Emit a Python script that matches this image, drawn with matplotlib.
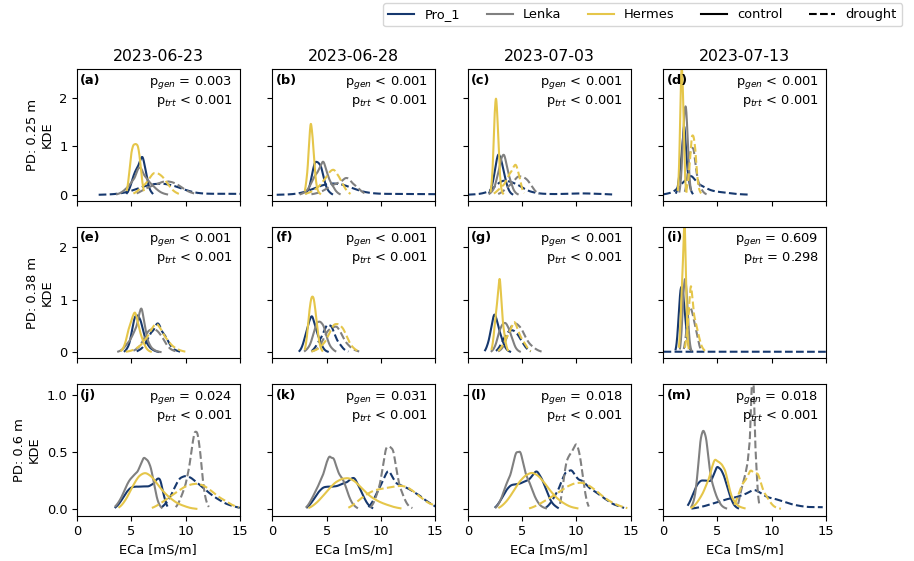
import numpy as np
import matplotlib
matplotlib.use("Agg")
import matplotlib.pyplot as plt
from matplotlib.lines import Line2D


dates = ["2023-06-23", "2023-06-28", "2023-07-03", "2023-07-13"]
depths = ["0.25", "0.38", "0.6"]
letters = [["a", "b", "c", "d"], ["e", "f", "g", "i"], ["j", "k", "l", "m"]]
genotypes = ["Pro_1", "Lenka", "Hermes"]
colors = {"Pro_1": "#16386e", "Lenka": "#808080", "Hermes": "#e5c64a"}

p_gen = [["= 0.003", "< 0.001", "< 0.001", "< 0.001"],
         ["< 0.001", "< 0.001", "< 0.001", "= 0.609"],
         ["= 0.024", "= 0.031", "= 0.018", "= 0.018"]]
p_trt = [["< 0.001", "< 0.001", "< 0.001", "< 0.001"],
         ["< 0.001", "< 0.001", "< 0.001", "= 0.298"],
         ["< 0.001", "< 0.001", "< 0.001", "< 0.001"]]

# density curves: (ECa [mS/m], KDE)
# PD 0.25 m
pa = {
    ("Pro_1", "control"): ([4.6, 4.9, 5.2, 5.5, 5.8, 6.05, 6.3, 6.55, 6.8, 6.95],
                           [0.02, 0.15, 0.4, 0.58, 0.7, 0.8, 0.55, 0.22, 0.06, 0.02]),
    ("Pro_1", "drought"): ([2, 3, 4, 5, 6, 7, 8, 9, 10, 11, 12, 13, 14, 15, 16],
                           [0.005, 0.01, 0.03, 0.08, 0.17, 0.23, 0.24, 0.19, 0.1, 0.04, 0.025, 0.025, 0.025, 0.025, 0.02]),
    ("Lenka", "control"): ([3.7, 4.2, 4.7, 5.2, 5.6, 5.9, 6.3, 6.8, 7.3, 7.8, 8.3],
                           [0.01, 0.06, 0.18, 0.35, 0.47, 0.5, 0.42, 0.25, 0.12, 0.04, 0.01]),
    ("Lenka", "drought"): ([5.5, 6.2, 6.9, 7.6, 8.2, 8.8, 9.4, 10, 10.6, 11.1],
                           [0.02, 0.12, 0.2, 0.25, 0.28, 0.27, 0.2, 0.1, 0.04, 0.01]),
    ("Hermes", "control"): ([4.6, 4.8, 5.0, 5.2, 5.4, 5.6, 5.8, 6.0, 6.15],
                            [0.05, 0.4, 0.9, 1.05, 1.05, 1.05, 0.8, 0.25, 0.05]),
    ("Hermes", "drought"): ([5.2, 5.7, 6.2, 6.7, 7.1, 7.5, 7.9, 8.3, 8.7, 9.1, 9.5],
                            [0.02, 0.1, 0.22, 0.36, 0.44, 0.45, 0.38, 0.25, 0.12, 0.05, 0.01]),
}
pb = {
    ("Pro_1", "control"): ([3.1, 3.4, 3.7, 3.95, 4.2, 4.45, 4.7, 5.0, 5.3, 5.5],
                           [0.02, 0.15, 0.5, 0.68, 0.68, 0.6, 0.4, 0.15, 0.04, 0.01]),
    ("Pro_1", "drought"): ([0.4, 1.5, 2.5, 3.5, 4.5, 5.5, 6.5, 7.5, 8.5, 9.5, 11, 12.5, 14, 15.5],
                           [0.005, 0.01, 0.03, 0.1, 0.2, 0.25, 0.22, 0.13, 0.05, 0.03, 0.025, 0.02, 0.02, 0.02]),
    ("Lenka", "control"): ([2.6, 3.1, 3.6, 4.0, 4.4, 4.7, 5.0, 5.4, 5.8, 6.2],
                           [0.01, 0.07, 0.25, 0.45, 0.6, 0.62, 0.5, 0.28, 0.08, 0.01]),
    ("Lenka", "drought"): ([3.6, 4.3, 5.0, 5.6, 6.2, 6.7, 7.1, 7.6, 8.1, 8.7],
                           [0.01, 0.05, 0.13, 0.22, 0.28, 0.32, 0.31, 0.22, 0.09, 0.01]),
    ("Hermes", "control"): ([3.0, 3.2, 3.4, 3.55, 3.7, 3.85, 4.0, 4.2, 4.4],
                            [0.03, 0.45, 1.2, 1.45, 1.25, 0.7, 0.3, 0.08, 0.02]),
    ("Hermes", "drought"): ([3.0, 3.6, 4.2, 4.8, 5.3, 5.7, 6.1, 6.5, 6.9, 7.2],
                            [0.02, 0.06, 0.16, 0.35, 0.48, 0.5, 0.4, 0.22, 0.06, 0.01]),
}
pc = {
    ("Pro_1", "control"): ([2.0, 2.3, 2.6, 2.85, 3.1, 3.35, 3.6, 3.85, 4.1],
                           [0.02, 0.25, 0.7, 0.85, 0.72, 0.45, 0.2, 0.06, 0.01]),
    ("Pro_1", "drought"): ([0, 1, 2, 2.7, 3.3, 3.9, 4.5, 5.1, 5.8, 6.6, 7.5, 8.5, 9.5, 10.5, 11.5, 12.5, 13.3],
                           [0.005, 0.02, 0.08, 0.22, 0.3, 0.28, 0.22, 0.14, 0.07, 0.03, 0.02, 0.02, 0.03, 0.035, 0.03, 0.02, 0.01]),
    ("Lenka", "control"): ([2.0, 2.4, 2.8, 3.1, 3.35, 3.6, 3.9, 4.2, 4.6],
                           [0.01, 0.12, 0.5, 0.75, 0.78, 0.62, 0.33, 0.1, 0.01]),
    ("Lenka", "drought"): ([2.8, 3.3, 3.8, 4.3, 4.7, 5.1, 5.5, 5.9, 6.3, 6.6],
                           [0.01, 0.08, 0.2, 0.32, 0.37, 0.38, 0.32, 0.18, 0.05, 0.01]),
    ("Hermes", "control"): ([2.1, 2.3, 2.45, 2.6, 2.75, 2.9, 3.05, 3.25],
                            [0.03, 0.5, 1.55, 2.2, 1.55, 0.6, 0.15, 0.02]),
    ("Hermes", "drought"): ([2.4, 2.8, 3.2, 3.6, 3.9, 4.2, 4.45, 4.7, 4.95, 5.2],
                            [0.02, 0.1, 0.2, 0.32, 0.45, 0.58, 0.62, 0.45, 0.15, 0.02]),
}
pd_ = {
    ("Pro_1", "control"): ([1.2, 1.4, 1.6, 1.8, 1.95, 2.1, 2.3, 2.5, 2.7],
                           [0.02, 0.2, 0.7, 1.2, 1.3, 1.0, 0.45, 0.12, 0.02]),
    ("Pro_1", "drought"): ([0, 0.6, 1.2, 1.7, 2.2, 2.6, 3.0, 3.5, 4.0, 4.6, 5.3, 6.0, 6.8, 7.8],
                           [0.01, 0.04, 0.1, 0.25, 0.35, 0.36, 0.3, 0.2, 0.13, 0.09, 0.06, 0.04, 0.02, 0.01]),
    ("Lenka", "control"): ([1.5, 1.65, 1.8, 1.95, 2.1, 2.25, 2.4, 2.55],
                           [0.03, 0.3, 1.0, 1.75, 1.95, 1.25, 0.4, 0.05]),
    ("Lenka", "drought"): ([2.0, 2.2, 2.4, 2.6, 2.8, 3.0, 3.3, 3.6, 4.0],
                           [0.02, 0.3, 0.8, 1.0, 0.9, 0.6, 0.25, 0.08, 0.01]),
    ("Hermes", "control"): ([1.35, 1.5, 1.6, 1.7, 1.8, 1.9, 2.0, 2.15],
                            [0.05, 0.8, 2.0, 2.8, 2.4, 1.3, 0.4, 0.05]),
    ("Hermes", "drought"): ([2.1, 2.3, 2.5, 2.65, 2.8, 2.95, 3.1, 3.3, 3.5],
                            [0.02, 0.3, 0.85, 1.18, 1.25, 0.95, 0.5, 0.12, 0.02]),
}
# PD 0.38 m
pe = {
    ("Pro_1", "control"): ([4.4, 4.8, 5.1, 5.35, 5.6, 5.85, 6.1, 6.4, 6.8, 7.2, 7.5],
                           [0.01, 0.15, 0.45, 0.68, 0.72, 0.6, 0.4, 0.2, 0.08, 0.02, 0.005]),
    ("Pro_1", "drought"): ([5.5, 6.0, 6.5, 6.9, 7.3, 7.6, 8.0, 8.4, 8.9, 9.5],
                           [0.01, 0.08, 0.25, 0.42, 0.5, 0.49, 0.38, 0.2, 0.06, 0.01]),
    ("Lenka", "control"): ([3.8, 4.3, 4.7, 5.1, 5.4, 5.7, 5.95, 6.2, 6.5, 6.9, 7.3, 7.7],
                           [0.01, 0.07, 0.2, 0.32, 0.42, 0.72, 0.83, 0.55, 0.25, 0.08, 0.02, 0.005]),
    ("Lenka", "drought"): ([5.2, 5.7, 6.2, 6.6, 7.0, 7.4, 7.8, 8.2, 8.7, 9.2],
                           [0.02, 0.1, 0.28, 0.4, 0.46, 0.42, 0.3, 0.16, 0.05, 0.01]),
    ("Hermes", "control"): ([4.1, 4.5, 4.8, 5.1, 5.35, 5.6, 5.9, 6.2, 6.5, 6.8],
                            [0.02, 0.2, 0.5, 0.68, 0.72, 0.6, 0.35, 0.14, 0.04, 0.01]),
    ("Hermes", "drought"): ([4.5, 5.2, 5.8, 6.4, 6.9, 7.3, 7.7, 8.2, 8.8, 9.4, 10.0],
                            [0.01, 0.04, 0.12, 0.3, 0.45, 0.5, 0.45, 0.3, 0.12, 0.04, 0.01]),
}
pf = {
    ("Pro_1", "control"): ([2.5, 2.8, 3.1, 3.4, 3.65, 3.9, 4.2, 4.5, 4.8, 5.1],
                           [0.01, 0.12, 0.4, 0.62, 0.65, 0.55, 0.35, 0.15, 0.04, 0.01]),
    ("Pro_1", "drought"): ([3.6, 4.0, 4.4, 4.8, 5.1, 5.4, 5.7, 6.1, 6.5, 7.0],
                           [0.01, 0.1, 0.28, 0.44, 0.5, 0.48, 0.38, 0.2, 0.07, 0.01]),
    ("Lenka", "control"): ([3.0, 3.4, 3.8, 4.1, 4.4, 4.7, 5.0, 5.4, 5.8],
                           [0.01, 0.12, 0.38, 0.55, 0.6, 0.5, 0.3, 0.1, 0.01]),
    ("Lenka", "drought"): ([3.6, 4.2, 4.7, 5.1, 5.5, 5.9, 6.3, 6.8, 7.4, 8.0],
                           [0.01, 0.08, 0.25, 0.4, 0.48, 0.48, 0.38, 0.2, 0.06, 0.01]),
    ("Hermes", "control"): ([3.0, 3.2, 3.4, 3.6, 3.8, 4.0, 4.2, 4.4, 4.6],
                            [0.02, 0.3, 0.8, 1.08, 1.08, 0.75, 0.35, 0.1, 0.02]),
    ("Hermes", "drought"): ([3.6, 4.2, 4.8, 5.3, 5.7, 6.1, 6.5, 6.9, 7.4, 7.9],
                            [0.01, 0.06, 0.2, 0.38, 0.52, 0.55, 0.45, 0.28, 0.1, 0.01]),
}
pg = {
    ("Pro_1", "control"): ([1.6, 1.9, 2.2, 2.45, 2.7, 3.0, 3.3, 3.6, 3.9],
                           [0.01, 0.2, 0.55, 0.7, 0.62, 0.38, 0.15, 0.04, 0.01]),
    ("Pro_1", "drought"): ([2.6, 3.0, 3.4, 3.8, 4.2, 4.6, 5.0, 5.4, 5.8],
                           [0.01, 0.12, 0.3, 0.42, 0.43, 0.35, 0.2, 0.07, 0.01]),
    ("Lenka", "control"): ([2.2, 2.6, 2.9, 3.2, 3.5, 3.8, 4.1, 4.4, 4.8],
                           [0.01, 0.15, 0.4, 0.55, 0.58, 0.45, 0.25, 0.08, 0.01]),
    ("Lenka", "drought"): ([2.8, 3.3, 3.7, 4.1, 4.5, 4.9, 5.3, 5.8, 6.3, 6.8],
                           [0.01, 0.1, 0.35, 0.55, 0.56, 0.45, 0.3, 0.15, 0.05, 0.01]),
    ("Hermes", "control"): ([2.2, 2.4, 2.6, 2.8, 2.95, 3.1, 3.3, 3.5, 3.7],
                            [0.02, 0.3, 0.85, 1.22, 1.27, 1.0, 0.5, 0.15, 0.02]),
    ("Hermes", "drought"): ([2.8, 3.2, 3.6, 4.0, 4.3, 4.6, 5.0, 5.4, 5.8],
                            [0.01, 0.12, 0.32, 0.48, 0.52, 0.45, 0.28, 0.1, 0.01]),
}
pi = {
    ("Pro_1", "control"): ([1.15, 1.3, 1.45, 1.6, 1.75, 1.9, 2.05, 2.2, 2.4, 2.6],
                           [0.02, 0.25, 0.8, 1.25, 1.28, 1.0, 0.6, 0.3, 0.1, 0.02]),
    ("Pro_1", "drought"): ([-2, 1, 4, 7, 10, 13, 16, 19],
                           [0.012, 0.012, 0.012, 0.012, 0.012, 0.012, 0.012, 0.012]),
    ("Lenka", "control"): ([1.55, 1.7, 1.85, 2.0, 2.15, 2.3, 2.45, 2.6],
                           [0.02, 0.35, 1.1, 1.5, 1.25, 0.6, 0.15, 0.02]),
    ("Lenka", "drought"): ([1.9, 2.1, 2.3, 2.5, 2.7, 2.9, 3.1, 3.3, 3.5],
                           [0.02, 0.3, 0.8, 0.9, 0.75, 0.55, 0.35, 0.15, 0.02]),
    ("Hermes", "control"): ([1.45, 1.6, 1.75, 1.9, 2.0, 2.1, 2.2, 2.35],
                            [0.03, 0.5, 1.6, 2.4, 2.2, 1.3, 0.5, 0.05]),
    ("Hermes", "drought"): ([2.0, 2.2, 2.4, 2.55, 2.7, 2.9, 3.1, 3.3, 3.55, 3.85],
                            [0.03, 0.4, 0.95, 1.15, 1.05, 0.7, 0.45, 0.3, 0.12, 0.02]),
}
# PD 0.6 m
pj = {
    ("Pro_1", "control"): ([3.55, 4.0, 4.5, 5.0, 5.5, 6.0, 6.5, 7.0, 7.4, 7.7, 8.0, 8.3],
                           [0.01, 0.06, 0.15, 0.2, 0.2, 0.2, 0.21, 0.24, 0.26, 0.24, 0.12, 0.02]),
    ("Pro_1", "drought"): ([7.8, 8.4, 9.0, 9.5, 10.0, 10.5, 11.0, 11.5, 12.0, 12.5, 13.0, 13.5, 14.0, 14.5, 15.0],
                           [0.01, 0.08, 0.2, 0.27, 0.3, 0.28, 0.24, 0.2, 0.16, 0.12, 0.09, 0.06, 0.04, 0.025, 0.015]),
    ("Lenka", "control"): ([3.55, 4.0, 4.5, 5.0, 5.5, 5.9, 6.2, 6.5, 6.8, 7.1, 7.4, 7.8],
                           [0.02, 0.08, 0.2, 0.3, 0.35, 0.38, 0.42, 0.44, 0.38, 0.22, 0.08, 0.01]),
    ("Lenka", "drought"): ([9.1, 9.5, 9.9, 10.3, 10.6, 10.85, 11.1, 11.35, 11.6, 11.9, 12.15],
                           [0.01, 0.08, 0.2, 0.38, 0.52, 0.66, 0.7, 0.5, 0.25, 0.07, 0.01]),
    ("Hermes", "control"): ([3.9, 4.5, 5.1, 5.7, 6.3, 6.9, 7.5, 8.1, 8.7, 9.3, 9.9, 10.5, 11.0],
                            [0.01, 0.08, 0.2, 0.3, 0.33, 0.29, 0.21, 0.14, 0.09, 0.05, 0.03, 0.01, 0.005]),
    ("Hermes", "drought"): ([6.9, 7.5, 8.1, 8.7, 9.3, 9.9, 10.5, 11.1, 11.7, 12.3, 12.9, 13.5, 14.1, 14.9],
                            [0.01, 0.04, 0.08, 0.12, 0.16, 0.2, 0.22, 0.23, 0.21, 0.17, 0.12, 0.08, 0.05, 0.02]),
}
pk = {
    ("Pro_1", "control"): ([3.2, 3.7, 4.2, 4.7, 5.2, 5.7, 6.2, 6.7, 7.2, 7.6, 8.0, 8.4, 8.8, 9.2],
                           [0.01, 0.07, 0.15, 0.2, 0.2, 0.2, 0.21, 0.25, 0.27, 0.26, 0.2, 0.11, 0.04, 0.01]),
    ("Pro_1", "drought"): ([8.85, 9.3, 9.8, 10.3, 10.7, 11.1, 11.6, 12.1, 12.6, 13.1, 13.6, 14.1, 14.6, 15.1],
                           [0.01, 0.07, 0.2, 0.29, 0.31, 0.28, 0.23, 0.2, 0.18, 0.15, 0.12, 0.08, 0.05, 0.02]),
    ("Lenka", "control"): ([3.15, 3.6, 4.1, 4.6, 5.0, 5.3, 5.6, 5.9, 6.3, 6.7, 7.1, 7.5, 7.8],
                           [0.01, 0.08, 0.2, 0.32, 0.4, 0.43, 0.42, 0.38, 0.32, 0.22, 0.1, 0.03, 0.01]),
    ("Lenka", "drought"): ([9.0, 9.4, 9.8, 10.2, 10.5, 10.8, 11.1, 11.4, 11.8, 12.2, 12.6, 12.9],
                           [0.01, 0.06, 0.2, 0.4, 0.52, 0.56, 0.5, 0.38, 0.2, 0.08, 0.02, 0.01]),
    ("Hermes", "control"): ([3.4, 4.0, 4.6, 5.2, 5.8, 6.4, 7.0, 7.6, 8.2, 8.8, 9.4, 10.0, 10.6, 11.2, 11.8],
                            [0.01, 0.05, 0.11, 0.18, 0.24, 0.27, 0.28, 0.25, 0.19, 0.13, 0.09, 0.06, 0.04, 0.02, 0.01]),
    ("Hermes", "drought"): ([7.0, 7.6, 8.2, 8.8, 9.4, 10.0, 10.6, 11.2, 11.8, 12.4, 13.0, 13.6, 14.2, 14.8, 15.2],
                            [0.01, 0.05, 0.1, 0.14, 0.17, 0.18, 0.19, 0.2, 0.21, 0.2, 0.16, 0.11, 0.07, 0.04, 0.02]),
}
pl = {
    ("Pro_1", "control"): ([2.55, 3.0, 3.5, 4.0, 4.5, 5.0, 5.5, 6.0, 6.4, 6.8, 7.2, 7.6, 8.0, 8.3],
                           [0.01, 0.07, 0.17, 0.22, 0.22, 0.23, 0.27, 0.31, 0.32, 0.28, 0.18, 0.08, 0.03, 0.01]),
    ("Pro_1", "drought"): ([7.2, 7.7, 8.2, 8.7, 9.1, 9.5, 9.9, 10.4, 10.9, 11.5, 12.1, 12.7, 13.3, 13.9, 14.4],
                           [0.01, 0.06, 0.16, 0.27, 0.32, 0.33, 0.3, 0.26, 0.22, 0.18, 0.13, 0.09, 0.05, 0.03, 0.01]),
    ("Lenka", "control"): ([2.6, 3.0, 3.4, 3.8, 4.2, 4.5, 4.8, 5.1, 5.5, 5.9, 6.3, 6.7, 7.2],
                           [0.01, 0.07, 0.18, 0.3, 0.42, 0.47, 0.48, 0.42, 0.3, 0.18, 0.08, 0.03, 0.01]),
    ("Lenka", "drought"): ([8.5, 8.8, 9.1, 9.4, 9.7, 10.0, 10.3, 10.6, 10.9, 11.15],
                           [0.01, 0.25, 0.44, 0.48, 0.52, 0.6, 0.5, 0.3, 0.08, 0.01]),
    ("Hermes", "control"): ([2.9, 3.5, 4.1, 4.7, 5.3, 5.9, 6.5, 7.1, 7.7, 8.3, 8.9, 9.5, 10.1],
                            [0.01, 0.06, 0.14, 0.24, 0.3, 0.33, 0.3, 0.23, 0.15, 0.09, 0.05, 0.02, 0.01]),
    ("Hermes", "drought"): ([5.65, 6.3, 7.0, 7.7, 8.4, 9.1, 9.8, 10.5, 11.2, 11.9, 12.6, 13.3, 14.0, 14.7],
                            [0.005, 0.03, 0.07, 0.11, 0.15, 0.2, 0.23, 0.24, 0.21, 0.16, 0.1, 0.06, 0.03, 0.01]),
}
pm = {
    ("Pro_1", "control"): ([2.3, 2.7, 3.1, 3.5, 3.9, 4.3, 4.7, 5.0, 5.3, 5.6, 5.9, 6.2, 6.5, 6.9],
                           [0.03, 0.12, 0.22, 0.26, 0.25, 0.26, 0.32, 0.35, 0.36, 0.3, 0.2, 0.1, 0.04, 0.01]),
    ("Pro_1", "drought"): ([2.6, 3.5, 4.5, 5.5, 6.5, 7.5, 8.3, 9.0, 10.0, 11.0, 12.0, 13.0, 14.0, 14.7],
                           [0.005, 0.02, 0.05, 0.08, 0.11, 0.14, 0.15, 0.14, 0.11, 0.07, 0.04, 0.025, 0.02, 0.02]),
    ("Lenka", "control"): ([2.6, 2.9, 3.2, 3.45, 3.7, 3.95, 4.2, 4.5, 4.8, 5.1, 5.4, 5.8],
                           [0.01, 0.1, 0.35, 0.62, 0.72, 0.62, 0.42, 0.25, 0.14, 0.07, 0.03, 0.01]),
    ("Lenka", "drought"): ([6.9, 7.2, 7.5, 7.75, 7.95, 8.1, 8.2, 8.3, 8.4, 8.55, 8.7, 8.9],
                           [0.02, 0.2, 0.3, 0.4, 0.6, 0.9, 1.08, 1.08, 0.9, 0.5, 0.15, 0.02]),
    ("Hermes", "control"): ([2.6, 3.1, 3.6, 4.1, 4.5, 4.8, 5.1, 5.4, 5.7, 6.0, 6.4, 6.9, 7.5],
                            [0.01, 0.05, 0.14, 0.27, 0.36, 0.41, 0.42, 0.4, 0.33, 0.22, 0.1, 0.03, 0.01]),
    ("Hermes", "drought"): ([6.55, 7.0, 7.4, 7.8, 8.1, 8.4, 8.7, 9.0, 9.4, 9.8, 10.3, 10.85],
                            [0.03, 0.15, 0.26, 0.3, 0.32, 0.32, 0.3, 0.24, 0.14, 0.07, 0.02, 0.005]),
}

panels = [[pa, pb, pc, pd_], [pe, pf, pg, pi], [pj, pk, pl, pm]]
row_ylim = [(-0.123, 2.59), (-0.114, 2.39), (-0.055, 1.10)]
row_ticks = [[0, 1, 2], [0, 1, 2], [0.0, 0.5, 1.0]]


def smooth(xs, ys):
    # gaussian kernel smoothing of the read density points
    xs = np.asarray(xs, float)
    ys = np.asarray(ys, float)
    step = np.gradient(xs)
    h = 0.6 * step
    grid = np.linspace(xs[0], xs[-1], 400)
    u = (grid[:, None] - xs[None, :]) / h[None, :]
    k = np.exp(-0.5 * u ** 2) / (h[None, :] * np.sqrt(2 * np.pi))
    return grid, (k * ys * step).sum(axis=1)


plt.rcParams["font.size"] = 9.4
plt.rcParams["xtick.major.size"] = 3.3
plt.rcParams["ytick.major.size"] = 3.3

fig, axes = plt.subplots(3, 4, figsize=(9.14, 5.61), dpi=100, sharex=True, sharey="row")
fig.subplots_adjust(left=0.0842, right=0.9037, top=0.8765, bottom=0.0807, wspace=0.2, hspace=0.195)

for r in range(3):
    for c in range(4):
        ax = axes[r, c]
        data = panels[r][c]
        for g in genotypes:
            for trt, ls in [("control", "-"), ("drought", "--")]:
                x, y = smooth(*data[(g, trt)])
                ax.plot(x, y, color=colors[g], ls=ls, lw=1.5)
        ax.set_xlim(0, 15)
        ax.set_ylim(*row_ylim[r])
        ax.set_yticks(row_ticks[r])
        ax.set_xticks([0, 5, 10, 15])
        ax.text(0.02, 0.965, "(" + letters[r][c] + ")", transform=ax.transAxes,
                ha="left", va="top", fontweight="bold")
        ax.text(0.955, 0.965, "p$_{gen}$ " + p_gen[r][c] + "\np$_{trt}$ " + p_trt[r][c],
                transform=ax.transAxes, ha="right", va="top")
        if r == 0:
            ax.set_title(dates[c], fontsize=11.3)
        if c == 0:
            ax.set_ylabel("PD: " + depths[r] + " m\nKDE")
        if r == 2:
            ax.set_xlabel("ECa [mS/m]")

handles = [Line2D([], [], color=colors[g], lw=1.5) for g in genotypes]
handles += [Line2D([], [], color="black", lw=1.5), Line2D([], [], color="black", lw=1.5, ls="--")]
labels = genotypes + ["control", "drought"]
fig.legend(handles, labels, loc="upper left", bbox_to_anchor=(383 / 914, 1 - 3 / 561),
           ncol=5, borderaxespad=0)

fig.savefig("out.png", dpi=100)
